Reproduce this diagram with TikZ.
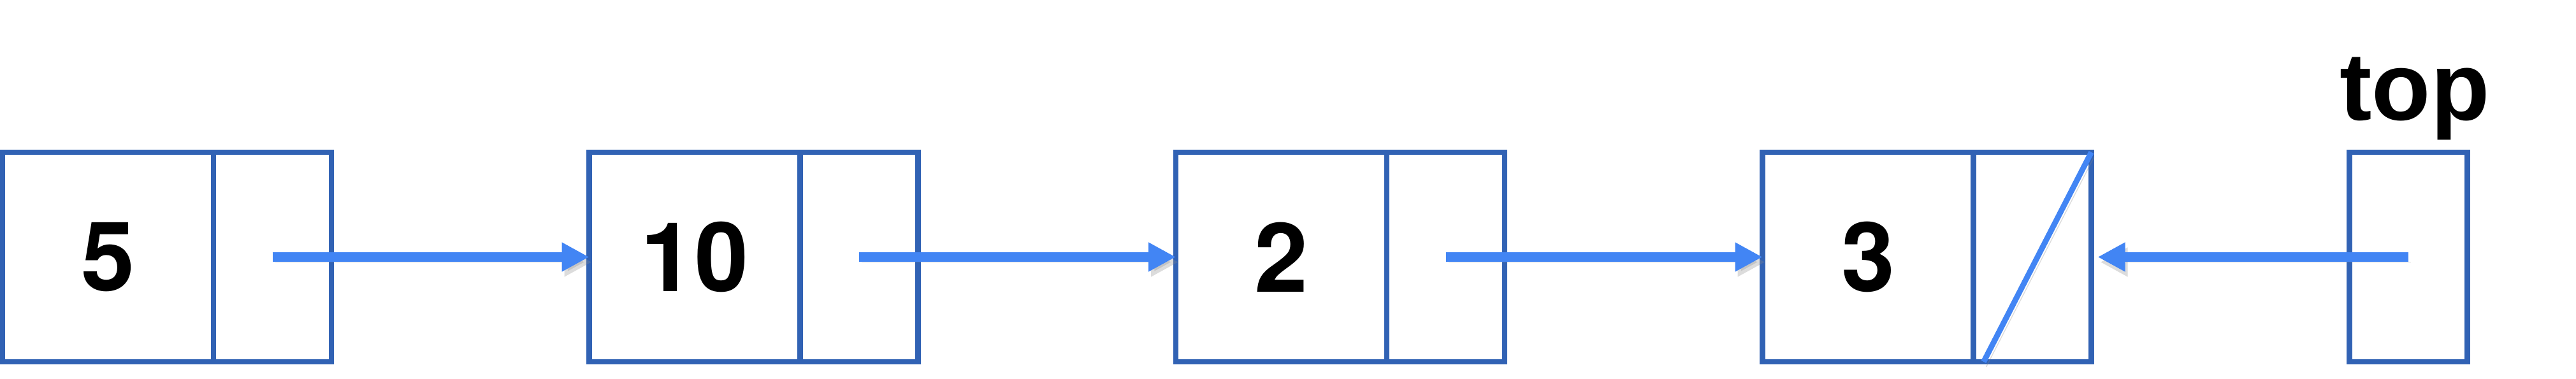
\documentclass[tikz,border=0pt]{standalone}
\usepackage{fontspec}
\setmainfont{Liberation Sans}
\newfontfamily\numfont{TeX Gyre Heros}
\usetikzlibrary{positioning,arrows.meta}
\definecolor{boxblue}{HTML}{3162B4}
\definecolor{ptrblue}{HTML}{4285F4}
\tikzset{
    datacell/.style={draw=boxblue, line width=2.5pt, minimum width=3.31cm,
        minimum height=3.29cm, inner sep=0pt, outer sep=0pt,
        font=\fontsize{43}{50}\selectfont\numfont\bfseries},
    ptrcell/.style={datacell, minimum width=1.85cm},
    shade/.style={preaction={draw=black!45, opacity=0.3,
        transform canvas={shift={(0.04,-0.08)}}}},
    link/.style={draw=ptrblue, line width=4pt, shade,
        -{Triangle[length=0.43cm,width=0.43cm]}},
}
\begin{document}
\begin{tikzpicture}
    \useasboundingbox (0,0) rectangle (40.42,5.95);

    % list nodes
    \node[datacell] (d1) at (1.695,1.915) {5};
    \node[ptrcell, right=0pt of d1] (p1) {};
    \node[datacell, right=4.045cm of p1] (d2) {10};
    \node[ptrcell, right=0pt of d2] (p2) {};
    \node[datacell, right=4.045cm of p2] (d3) {2};
    \node[ptrcell, right=0pt of d3] (p3) {};
    \node[datacell, right=4.045cm of p3] (d4) {3};
    \node[ptrcell, right=0pt of d4] (p4) {};

    % top pointer
    \node[ptrcell, right=4.05cm of p4] (tp) {};
    \node[anchor=base, font=\fontsize{43}{50}\selectfont\bfseries] (toplabel)
        at ([xshift=0.1cm,yshift=0.5cm]tp.north) {top};

    % links
    \draw[link] (p1.center) -- (d2.west);
    \draw[link] (p2.center) -- (d3.west);
    \draw[link] (p3.center) -- (d4.west);
    \draw[link] (tp.center) -- ([xshift=0.1cm]p4.east);

    % null pointer
    \draw[ptrblue, line width=2.5pt, shade] (p4.north east) -- ([xshift=0.16cm]p4.south west);
\end{tikzpicture}
\end{document}
